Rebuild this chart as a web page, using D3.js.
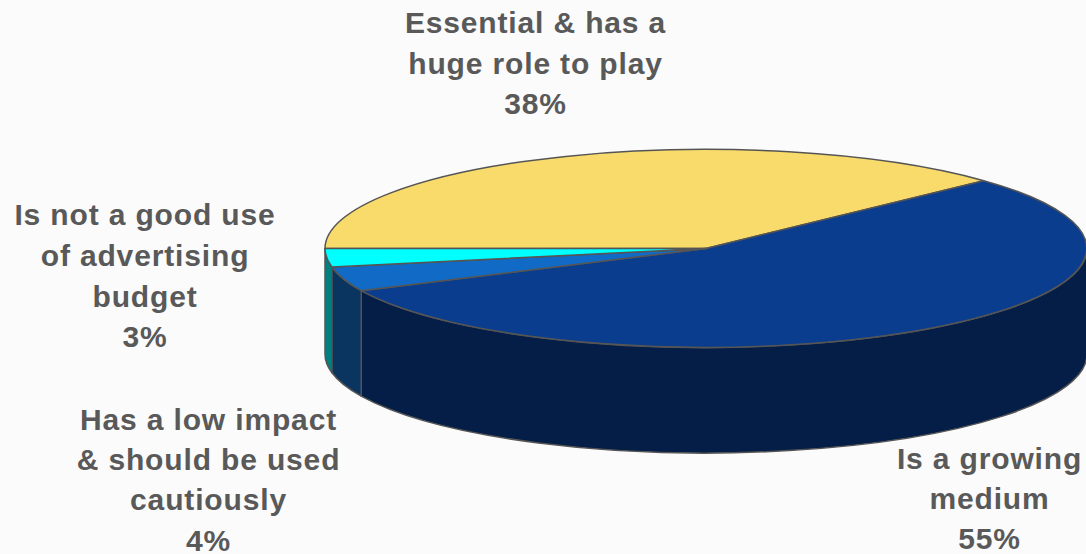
<!DOCTYPE html>
<html>
<head>
<meta charset="utf-8">
<script src="https://cdn.jsdelivr.net/npm/d3@7"></script>
<style>
html, body { margin: 0; padding: 0; background: #fbfbfb; }
svg { display: block; }
text { font-family: "Liberation Sans", Arial, sans-serif; font-weight: 700; font-size: 30px; letter-spacing: 0.85px; fill: #595959; text-anchor: middle; }
</style>
</head>
<body>
<svg id="chart" width="1086" height="554"></svg>
<script>
// Survey shares, in drawing order clockwise from the left edge of the disc
const shares = [38, 55, 4, 3];
const labelLines = [
  ["Essential & has a", "huge role to play", "38%"],
  ["Is a growing", "medium", "55%"],
  ["Has a low impact", "& should be used", "cautiously", "4%"],
  ["Is not a good use", "of advertising", "budget", "3%"]
];
const topColors = ["#f9db6b", "#0b3d8e", "#116bc6", "#00ffff"];
const sideColors = ["#7c6d35", "#041e47", "#0a3560", "#008080"];
const labelCenters = [[535.5, 32.8], [989.5, 469], [208.5, 429.5], [145, 225]];
const lineGaps = [40.8, 40, 40.4, 40.8];

// Disc geometry: a circle flattened into an ellipse and extruded downward
const cx = 706, cy = 248.5, rx = 381, ry = 99, depth = 105.5;
const edge = "#555555";

const svg = d3.select("#chart");
const slices = d3.pie().sort(null).startAngle(-Math.PI / 2).endAngle(1.5 * Math.PI)(shares);

const px = a => cx + rx * Math.sin(a);
const py = a => cy - ry * Math.cos(a);

// Extruded wall: only the part of each slice on the front half of the rim shows
const sidePath = (a0, a1) => {
  const s = Math.max(a0, Math.PI / 2), e = Math.min(a1, 1.5 * Math.PI);
  if (e <= s) return null;
  return `M${px(s)},${py(s)}A${rx},${ry} 0 0 1 ${px(e)},${py(e)}` +
         `L${px(e)},${py(e) + depth}A${rx},${ry} 0 0 0 ${px(s)},${py(s) + depth}Z`;
};

svg.append("g").selectAll("path")
  .data(slices.filter(d => sidePath(d.startAngle, d.endAngle)))
  .join("path")
  .attr("d", d => sidePath(d.startAngle, d.endAngle))
  .attr("fill", d => sideColors[d.index])
  .attr("stroke", edge)
  .attr("stroke-width", 1.5)
  .attr("stroke-linejoin", "round");

// Top face: unit-radius arcs scaled to the ellipse, stroke kept at screen width
const arc = d3.arc().innerRadius(0).outerRadius(1);
svg.append("g")
  .attr("transform", `translate(${cx},${cy}) scale(${rx},${ry})`)
  .selectAll("path")
  .data(slices)
  .join("path")
  .attr("d", arc)
  .attr("fill", d => topColors[d.index])
  .attr("stroke", edge)
  .attr("stroke-width", 1.5)
  .attr("stroke-linejoin", "round")
  .attr("vector-effect", "non-scaling-stroke");

// Multi-line category labels with their percentages
const labels = svg.append("g").selectAll("text")
  .data(labelLines.map((lines, i) => lines.map(line => ({ line, gap: lineGaps[i] }))))
  .join("text")
  .attr("transform", (d, i) => `translate(${labelCenters[i][0]},${labelCenters[i][1]})`);
labels.selectAll("tspan")
  .data(d => d)
  .join("tspan")
  .attr("x", 0)
  .attr("y", (d, i) => i * d.gap)
  .text(d => d.line);
</script>
</body>
</html>
